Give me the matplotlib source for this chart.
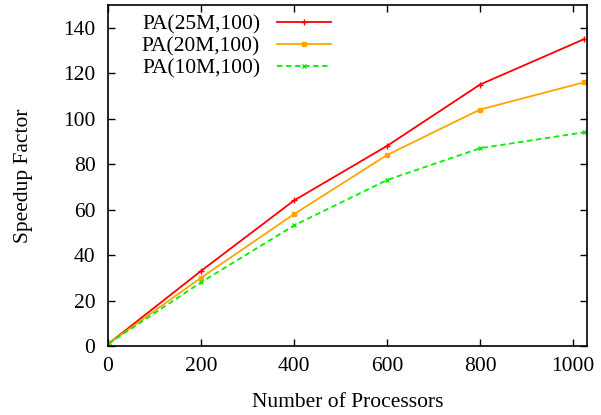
import matplotlib.pyplot as plt

# data
procs = [1, 200, 400, 600, 800, 1024]
pa25 = [1, 33, 64, 88, 115, 135]
pa20 = [1, 30, 58, 84, 104, 116]
pa10 = [1, 28, 53, 73, 87, 94]

plt.rcParams['font.family'] = ['Liberation Serif', 'DejaVu Serif']
plt.rcParams['font.size'] = 15.5

fig = plt.figure(figsize=(6.01, 4.15), dpi=100)
ax = fig.add_axes([0.1797, 0.1663, 0.797, 0.8217])

ax.plot(procs, pa25, color='#ff0000', lw=1.3, marker='+', ms=4, label='PA(25M,100)')
ax.plot(procs, pa20, color='#ffa500', lw=1.3, marker='s', ms=3, label='PA(20M,100)')
ax.plot(procs, pa10, color='#00ee00', lw=1.3, ls=(0, (3, 2)), marker='x', ms=3.5, label='PA(10M,100)')

ax.set_xlim(0, 1030)
ax.set_ylim(0, 150)
ax.set_xticks([0, 200, 400, 600, 800, 1000])
ax.set_yticks(range(0, 141, 20))
ax.tick_params(direction='in', top=True, right=True, length=5, width=1)
ax.tick_params(axis='x', pad=8)
ax.tick_params(axis='y', pad=9)
ax.set_xlabel('Number of Processors', labelpad=12)
ax.set_ylabel('Speedup Factor', labelpad=22)
for s in ax.spines.values():
    s.set_linewidth(1.2)

ax.legend(loc='upper left', bbox_to_anchor=(0.236, 0.965), bbox_transform=fig.transFigure,
          frameon=False, markerfirst=False, handlelength=2.5, labelspacing=0.08,
          handletextpad=0.8, borderaxespad=0, borderpad=0)

fig.savefig('out.png', dpi=100)
